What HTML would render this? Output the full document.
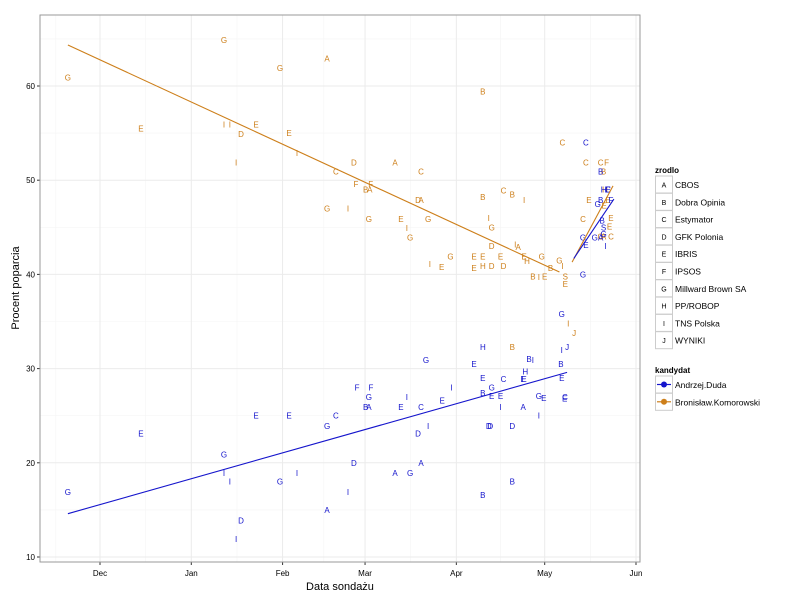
<!DOCTYPE html>
<html><head><meta charset="utf-8"><style>
body{margin:0;background:#fff;font-family:"Liberation Sans",sans-serif}
svg text{font-family:"Liberation Sans",sans-serif}
</style></head><body>
<svg id="chart" width="800" height="600" viewBox="0 0 800 600"></svg>
<script>
// days since 2014-12-01
const komDays=[-10.9,42.1,13.9,42.1,44.1,53,47.9,46.2,61.1,64.2,66.9,77.1,80.1,86.2,100.2,109,86.9,91.9,90.2,91.6,77.1,84.2,91.3,102.2,104.2,105.3,108,109,111.4,130,130,137,140,144,132,133,112,116,119,127,127,130,130,133,133,136,137,141,142,144,145,150,147,149,151,153,156,157,158,158,157,165,164,166,170,172,171,171.5,172.5,171.2,173.5,170,171,173,173.5,140,159,161];
const komSrc=["G","G","E","I","I","E","D","I","G","E","I","A","C","D","A","C","F","F","B","A","G","I","G","E","I","G","D","A","G","B","B","C","B","I","I","G","I","E","G","E","E","E","H","D","D","E","D","I","A","E","H","G","B","I","E","B","G","I","S","E","C","C","C","E","C","F","B","H","E","E","E","G","A","E","C","B","I","J"];
const komVals=[60.9,64.9,55.5,55.9,55.9,55.9,54.9,51.9,61.9,55.0,52.9,62.9,50.9,51.9,51.9,50.9,49.6,49.6,49.0,49.0,47.0,47.0,45.9,45.9,44.9,43.9,47.9,47.9,45.9,59.4,48.2,48.9,48.5,47.9,46.0,45.0,41.1,40.8,41.9,40.7,41.9,41.9,40.9,40.9,43.0,41.9,40.9,43.2,42.9,41.9,41.4,41.9,39.8,39.7,39.8,40.7,41.5,40.9,39.8,39.0,54.0,51.9,45.9,47.9,51.9,51.9,50.9,49.0,47.9,47.3,46.0,44.0,44.0,45.1,44.0,32.3,34.8,33.8];
const dudaDays=[-10.9,13.9,42.1,42.1,44.1,47.9,46.2,53,61.1,64.2,66.9,77.1,80.1,77.1,87.3,92,91.3,90.2,91.3,102.2,104.2,109,108,111.4,110.7,116.2,119.3,127,130,130,130,133,133,136,136,137,140,132,132.5,143.7,143.7,144,144.4,147,145.7,149,150.7,149,156.5,156.8,156.8,156.8,157.9,157.8,130,140,109,100.2,105.3,86.2,84.2,164,164,165,168,170,171.6,169,170.5,171,171,170,173.5,172.5,165,170,171,172.5,158.6];
const dudaSrc=["G","E","G","I","I","D","I","E","G","E","I","A","C","G","F","F","G","B","A","E","I","C","D","I","G","E","I","E","H","E","B","G","E","E","I","C","D","D","D","A","E","E","H","I","B","G","E","I","B","I","G","E","C","E","B","B","A","A","G","D","I","G","G","E","G","A","I","G","B","S","G","B","F","C","C","B","H","E","J"];
const dudaVals=[16.9,23.1,20.9,18.9,18.0,13.9,11.9,25.0,18.0,25.0,18.9,15.0,25.0,23.9,28.0,28.0,27.0,25.9,25.9,25.9,27.0,25.9,23.1,23.9,30.9,26.6,28.0,30.5,32.3,29.0,27.4,28.0,27.1,27.1,25.9,28.9,23.9,23.9,23.9,25.9,28.9,28.9,29.7,30.9,31.0,27.1,26.9,25.0,30.5,32.0,35.8,29.0,27.0,26.8,16.6,18.0,20.0,18.9,18.9,20.0,16.9,40.0,43.9,43.1,43.9,43.9,43.0,47.5,45.7,45.0,44.3,47.9,47.9,49.0,54.0,50.9,49.0,49.0,32.3];
const komLine1Days=[-10.9,156],komLine1Vals=[64.35,40.25];
const komLine2Days=[160.3,174.2],komLine2Vals=[41.3,49.4];
const dudaLine1Days=[-10.9,158.6],dudaLine1Vals=[14.6,29.6];
const dudaLine2Days=[160.9,174.5],dudaLine2Vals=[41.7,48.0];
const yTicks=[10,20,30,40,50,60];
const xTickLabels=["Dec","Jan","Feb","Mar","Apr","May","Jun"];
const xTickDays=[0,31,62,90,121,151,182];
const srcCodes=["A","B","C","D","E","F","G","H","I","J"];
const srcNames=["CBOS","Dobra Opinia","Estymator","GFK Polonia","IBRIS","IPSOS","Millward Brown SA","PP/ROBOP","TNS Polska","WYNIKI"];
const candNames=["Andrzej.Duda","Bronisław.Komorowski"];

const KOM="#cd7f1a",DUDA="#1515cc";
const L=40,R=640,T=15,B=562;
const X=d=>100+d*2.945;
const Y=v=>557-(v-10)*9.42;
const svg=document.getElementById('chart');
const NS="http://www.w3.org/2000/svg";
function mk(tag,at,txt){const e=document.createElementNS(NS,tag);for(const k in at)e.setAttribute(k,at[k]);if(txt!==undefined)e.textContent=txt;svg.appendChild(e);return e;}

let bg=mk('rect',{x:L,y:T,width:R-L,height:B-T,fill:'#fff'});


// minor grid
for(let v=5;v<=65;v+=10){const y=Y(v);if(y>T&&y<B){let g=mk('line',{x1:L,x2:R,y1:y,y2:y,stroke:'#f5f5f5','stroke-width':0.6});}}
for(let i=-1;i<xTickDays.length-1;i++){const a=i<0?-30:xTickDays[i];const b=xTickDays[i+1];const x=X((a+b)/2);if(x>L&&x<R){let g=mk('line',{x1:x,x2:x,y1:T,y2:B,stroke:'#f5f5f5','stroke-width':0.6});}}
yTicks.forEach(v=>{const y=Y(v);
let g=mk('line',{x1:L,x2:R,y1:y,y2:y,stroke:'#ebebeb','stroke-width':1});
let t=mk('line',{x1:L-3,x2:L,y1:y,y2:y,stroke:'#333'});
let l=mk('text',{x:L-5,y:y+3,'font-size':8,'text-anchor':'end',fill:'#000'},v);});
xTickDays.forEach((d,i)=>{const x=X(d);
let g=mk('line',{x1:x,x2:x,y1:T,y2:B,stroke:'#ebebeb','stroke-width':1});
let t=mk('line',{x1:x,x2:x,y1:B,y2:B+3,stroke:'#333'});
let l=mk('text',{x:x,y:B+14,'font-size':8,'text-anchor':'middle',fill:'#000'},xTickLabels[i]);});
let bd=mk('rect',{x:L,y:T,width:R-L,height:B-T,fill:'none',stroke:'#999','stroke-width':1});



function pts(days,src,vals,col,name){days.forEach((d,i)=>{let e=mk('text',{x:X(d),y:Y(vals[i])+3,'font-size':8,'text-anchor':'middle',fill:col},src[i]);

});}
pts(komDays,komSrc,komVals,KOM,'komorowski-point');
pts(dudaDays,dudaSrc,dudaVals,DUDA,'duda-point');
function ln(days,vals,col,name){let e=mk('line',{x1:X(days[0]),y1:Y(vals[0]),x2:X(days[1]),y2:Y(vals[1]),stroke:col,'stroke-width':1.1});

}
ln(komLine1Days,komLine1Vals,KOM,'komorowski-trend-round1');
ln(komLine2Days,komLine2Vals,KOM,'komorowski-trend-round2');
ln(dudaLine1Days,dudaLine1Vals,DUDA,'duda-trend-round1');
ln(dudaLine2Days,dudaLine2Vals,DUDA,'duda-trend-round2');

let xt=mk('text',{x:340,y:590,'font-size':11,'text-anchor':'middle'},'Data sondażu');

let yt=mk('text',{x:0,y:0,'font-size':11,'text-anchor':'middle',transform:'translate(19,288) rotate(-90)'},'Procent poparcia');


// legend
let lt=mk('text',{x:655,y:173,'font-size':8,'font-weight':'bold'},'zrodlo');

srcCodes.forEach((c,i)=>{const y=176+i*17.3;
let r=mk('rect',{x:655.5,y:y,width:17,height:17,fill:'#fff',stroke:'#ccc','stroke-width':1});
let k=mk('text',{x:664,y:y+11.5,'font-size':7,'text-anchor':'middle'},c);
let n=mk('text',{x:675,y:y+12,'font-size':8.5},srcNames[i]);});
let lt2=mk('text',{x:655,y:373,'font-size':8,'font-weight':'bold'},'kandydat');

[DUDA,KOM].forEach((col,i)=>{const y=376+i*17.3;
let r=mk('rect',{x:655.5,y:y,width:17,height:17,fill:'#fff',stroke:'#ccc','stroke-width':1});
let l=mk('line',{x1:657,x2:671,y1:y+8.5,y2:y+8.5,stroke:col,'stroke-width':1.2});
let c=mk('circle',{cx:664,cy:y+8.5,r:3,fill:col});
let n=mk('text',{x:675,y:y+12,'font-size':8.5},candNames[i]);});
</script>
</body></html>
